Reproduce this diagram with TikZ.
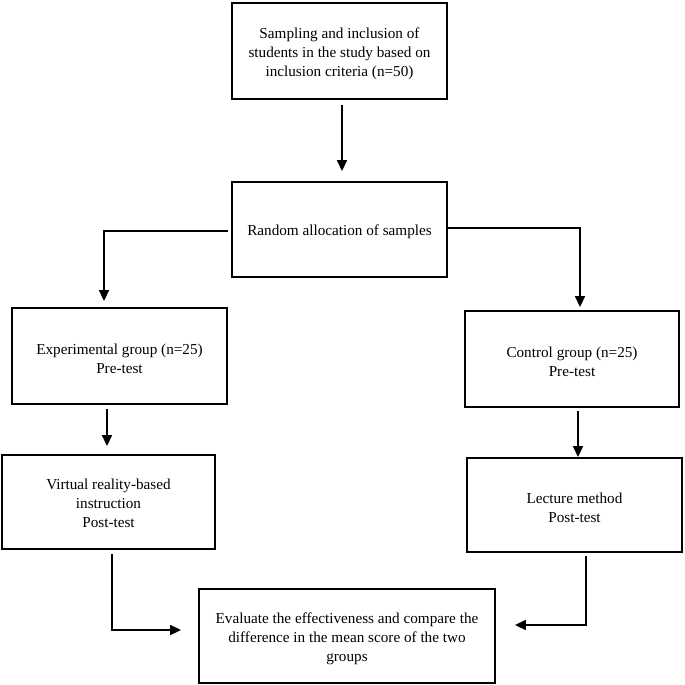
\documentclass[tikz,border=0pt]{standalone}
\usepackage{fontspec}
\setmainfont{Liberation Serif}
\usetikzlibrary{arrows.meta}
\begin{document}
\begin{tikzpicture}[x=1pt,y=1pt,
  box/.style={draw, line width=1.9pt, inner sep=0pt},
  txt/.style={align=center, inner sep=0pt, font=\fontsize{15.2}{18.8}\selectfont},
  conn/.style={line width=1.7pt, -{Triangle[length=11pt,width=10pt]}}]
\useasboundingbox (0,0) rectangle (685,-685);
\node[box, minimum width=215pt, minimum height=96pt] (b1) at (339.5,-51) {};
\node[box, minimum width=215pt, minimum height=95pt] (b2) at (339.5,-229.5) {};
\node[box, minimum width=215pt, minimum height=96pt] (b3) at (119.5,-356) {};
\node[box, minimum width=214pt, minimum height=96pt] (b4) at (572,-359) {};
\node[box, minimum width=213pt, minimum height=94pt] (b5) at (108.5,-502) {};
\node[box, minimum width=215pt, minimum height=94pt] (b6) at (574.5,-505) {};
\node[box, minimum width=296pt, minimum height=94pt] (b7) at (347,-636) {};

\node[txt] (t1) at ([yshift=-3pt]b1.center)
  {Sampling and inclusion of\\students in the study based on\\inclusion criteria (n=50)};
\node[txt] (t2) at ([yshift=-2pt]b2.center) {Random allocation of samples};
\node[txt] (t3) at ([yshift=-2.5pt]b3.center) {Experimental group (n=25)\\Pre-test};
\node[txt] (t4) at ([yshift=-2.5pt]b4.center) {Control group (n=25)\\Pre-test};
\node[txt] (t5) at ([yshift=-1.5pt]b5.center) {Virtual reality-based\\instruction\\Post-test};
\node[txt] (t6) at ([yshift=-2.5pt]b6.center) {Lecture method\\Post-test};
\node[txt] (t7) at ([yshift=-2.5pt]b7.center)
  {Evaluate the effectiveness and compare the\\difference in the mean score of the two\\groups};

\draw[conn, shorten <=5pt, shorten >=10pt] ([xshift=2.5pt]b1.south) -- ([xshift=2.5pt]b2.north);
\draw[conn, shorten <=3pt, shorten >=6pt] ([yshift=-1.5pt]b2.west) -| ([xshift=-15.5pt]b3.north);
\draw[conn, shorten >=3pt] ([yshift=1.5pt]b2.east) -| ([xshift=8pt]b4.north);
\draw[conn, shorten <=4pt, shorten >=8pt] ([xshift=-12.5pt]b3.south) -- ([xshift=-12.5pt]b3.south |- b5.north);
\draw[conn, shorten <=3pt] ([xshift=6pt]b4.south) -- ([xshift=6pt]b4.south |- b6.north);
\draw[conn, shorten <=4pt, shorten >=17pt] ([xshift=3.5pt]b5.south) |- ([yshift=6pt]b7.west);
\draw[conn, shorten <=3pt, shorten >=19pt] ([xshift=11.5pt]b6.south) |- ([yshift=11pt]b7.east);
\end{tikzpicture}
\end{document}
